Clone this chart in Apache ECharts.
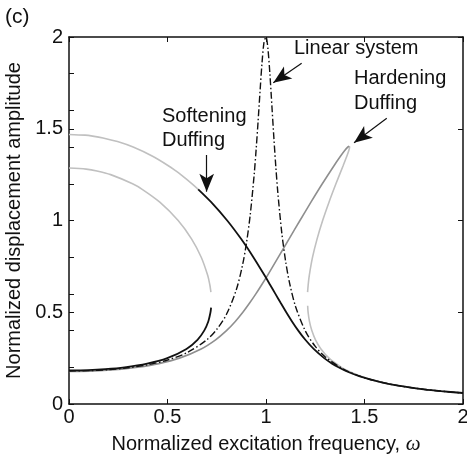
<!DOCTYPE html>
<html>
<head>
<meta charset="utf-8">
<script src="https://cdn.jsdelivr.net/npm/echarts@6/dist/echarts.min.js"></script>
<style>
  html, body { margin: 0; padding: 0; background: #fff; }
  #chart { width: 467px; height: 460px; }
</style>
</head>
<body>
<div id="chart"></div>
<script>
// Frequency response curves: [omega, amplitude]
const linearSystem = [[0,0.18],[0.1,0.1818],[0.2,0.1875],[0.3,0.1977],[0.4,0.2141],[0.5,0.2396],[0.6,0.2803],[0.7,0.3503],[0.75,0.4066],[0.8,0.4903],[0.85,0.6253],[0.88,0.7528],[0.9,0.8715],[0.92,1.0315],[0.94,1.2509],[0.95,1.3881],[0.96,1.5428],[0.97,1.7074],[0.98,1.8618],[0.99,1.9716],[1.0,2.0],[1.01,1.9335],[1.02,1.7948],[1.03,1.6229],[1.04,1.4495],[1.05,1.2911],[1.06,1.1529],[1.08,0.9340],[1.1,0.7753],[1.12,0.6578],[1.15,0.5314],[1.2,0.3973],[1.25,0.3138],[1.3,0.2572],[1.4,0.1859],[1.5,0.1432],[1.6,0.1149],[1.7,0.0949],[1.8,0.0802],[1.9,0.0688],[2.0,0.0599]];

const softLowerStable = [[0,0.1832],[0.0963,0.185],[0.1844,0.19],[0.2821,0.20],[0.3968,0.22],[0.4989,0.25],[0.5963,0.30],[0.6522,0.35],[0.6863,0.40],[0.7070,0.45],[0.7182,0.50],[0.7213,0.525]];
const softUnstable = [[0.7201,0.61],[0.7191,0.62],[0.7148,0.65],[0.7043,0.70],[0.6712,0.80],[0.6219,0.90],[0.5541,1.00],[0.4610,1.10],[0.3715,1.17],[0.3226,1.20],[0.2116,1.25],[0.1419,1.27],[0.0873,1.28],[0,1.286]];
const softUpperUnreached = [[0,1.469],[0.0813,1.465],[0.1199,1.46],[0.1728,1.45],[0.2461,1.43],[0.3256,1.40],[0.4243,1.35],[0.5021,1.30],[0.5425,1.27],[0.5676,1.25],[0.6247,1.20],[0.6559,1.17]];
const softUpperStable = [[0.6559,1.17],[0.7218,1.10],[0.8030,1.00],[0.8733,0.90],[0.9359,0.80],[0.9931,0.70],[1.0206,0.65],[1.0477,0.60],[1.0749,0.55],[1.1028,0.50],[1.1320,0.45],[1.1638,0.40],[1.1996,0.35],[1.2421,0.30],[1.2954,0.25],[1.3357,0.22],[1.3678,0.20],[1.4054,0.18],[1.4768,0.15],[1.5766,0.12],[1.6699,0.10],[1.8002,0.08],[1.8877,0.07],[2.0,0.0599]];

const hardUpperStable = [[0,0.177],[0.1301,0.18],[0.2678,0.19],[0.3484,0.20],[0.4561,0.22],[0.5606,0.25],[0.6707,0.30],[0.7442,0.35],[0.7994,0.40],[0.8442,0.45],[0.8825,0.50],[0.9168,0.55],[0.9485,0.60],[0.9783,0.65],[1.0071,0.70],[1.0626,0.80],[1.1173,0.90],[1.1723,1.00],[1.2282,1.10],[1.2858,1.20],[1.3460,1.30],[1.3779,1.35],[1.3986,1.38],[1.4147,1.40],[1.4221,1.405]];
const hardUnstable = [[1.4221,1.405],[1.4244,1.40],[1.4200,1.38],[1.4102,1.35],[1.3920,1.30],[1.3550,1.20],[1.3198,1.10],[1.2875,1.00],[1.2594,0.90],[1.2363,0.80],[1.2196,0.70],[1.2142,0.65],[1.2111,0.61]];
const hardLowerStable = [[1.2115,0.535],[1.2137,0.50],[1.2206,0.45],[1.2326,0.40],[1.2512,0.35],[1.2789,0.30],[1.3201,0.25],[1.3828,0.20],[1.4173,0.18],[1.4847,0.15],[1.5814,0.12],[1.6730,0.10],[1.8021,0.08],[1.8890,0.07],[2.0,0.06]];

// Annotation arrows: [tail, head] in data coordinates
const arrowSoftening = [[0.699, 1.357], [0.699, 1.157]];
const arrowLinear = [[1.181, 1.857], [1.037, 1.751]];
const arrowHardening = [[1.613, 1.557], [1.447, 1.424]];

const FONT = 'Liberation Sans, Arial, Helvetica, sans-serif';
const FS = 20;
const BLACK = '#111';
const MID_GRAY = '#8f8f8f';
const LIGHT_GRAY = '#c0c0c0';

function curve(data, color, width, type) {
  return {
    type: 'line', data: data, showSymbol: false, smooth: 0.3,
    lineStyle: { color: color, width: width, type: type || 'solid' },
    silent: true, animation: false
  };
}

const tickStyle = { show: true, inside: true, length: 5, lineStyle: { color: BLACK, width: 1 } };
const frameLine = { show: true, onZero: false, lineStyle: { color: BLACK, width: 1.5 } };

const chart = echarts.init(document.getElementById('chart'), null, { renderer: 'canvas' });

chart.setOption({
  animation: false,
  backgroundColor: '#fff',
  grid: { left: 69, right: 4, top: 37, bottom: 56, containLabel: false, outerBoundsMode: 'none' },
  xAxis: [
    {
      type: 'value', min: 0, max: 2, interval: 0.5, position: 'bottom',
      name: 'Normalized excitation frequency, {w|ω}',
      nameLocation: 'middle', nameGap: 30,
      nameTextStyle: {
        fontFamily: FONT, fontSize: FS, color: BLACK,
        rich: { w: { fontFamily: 'Liberation Serif, DejaVu Serif, serif', fontStyle: 'italic', fontSize: FS + 1, color: BLACK } }
      },
      axisLine: frameLine,
      axisTick: tickStyle,
      axisLabel: { fontFamily: FONT, fontSize: FS, color: BLACK, margin: 3, hideOverlap: false,
        formatter: function (v) { return String(v); } },
      splitLine: { show: false }
    },
    {
      type: 'value', min: 0, max: 2, interval: 0.5, position: 'top',
      axisLine: frameLine, axisTick: tickStyle,
      axisLabel: { show: false }, splitLine: { show: false }
    }
  ],
  yAxis: [
    {
      type: 'value', min: 0, max: 2, interval: 0.5, position: 'left',
      name: 'Normalized displacement amplitude',
      nameLocation: 'middle', nameGap: 42,
      nameTextStyle: { fontFamily: FONT, fontSize: FS, color: BLACK },
      axisLine: frameLine,
      axisTick: tickStyle,
      axisLabel: { fontFamily: FONT, fontSize: FS, color: BLACK, margin: 6,
        formatter: function (v) { return String(v); } },
      splitLine: { show: false }
    },
    {
      type: 'value', min: 0, max: 2, interval: 0.2, position: 'left',
      axisLine: { show: false, onZero: false }, axisTick: tickStyle,
      axisLabel: { show: false }, splitLine: { show: false }
    },
    {
      type: 'value', min: 0, max: 2, interval: 0.5, position: 'right',
      axisLine: frameLine, axisTick: tickStyle,
      axisLabel: { show: false }, splitLine: { show: false }
    }
  ],
  series: [
    curve(softUnstable, LIGHT_GRAY, 1.6),
    curve(softUpperUnreached, LIGHT_GRAY, 1.6),
    curve(hardUnstable, LIGHT_GRAY, 1.6),
    curve(hardLowerStable, LIGHT_GRAY, 1.6),
    curve(hardUpperStable, MID_GRAY, 1.6),
    curve(linearSystem, BLACK, 1.4, [7, 2.5, 1.5, 2.5]),
    curve(softLowerStable, BLACK, 1.8),
    Object.assign(curve(softUpperStable, BLACK, 1.8), {
      markLine: {
        silent: true, animation: false,
        symbol: ['none', 'arrow'], symbolSize: [11, 18],
        label: { show: false },
        lineStyle: { color: BLACK, width: 1.2, type: 'solid' },
        emphasis: { disabled: true },
        data: [
          [{ coord: arrowSoftening[0] }, { coord: arrowSoftening[1] }],
          [{ coord: arrowLinear[0] }, { coord: arrowLinear[1] }],
          [{ coord: arrowHardening[0] }, { coord: arrowHardening[1] }]
        ]
      }
    })
  ],
  graphic: [
    { type: 'text', left: 5, top: 7, style: { text: '(c)', font: '21px ' + FONT, fill: BLACK } },
    { type: 'text', left: 162, top: 104, style: { text: 'Softening\nDuffing', font: FS + 'px ' + FONT, fill: BLACK, lineHeight: 24 } },
    { type: 'text', left: 294, top: 38, style: { text: 'Linear system', font: FS + 'px ' + FONT, fill: BLACK } },
    { type: 'text', left: 354, top: 66, style: { text: 'Hardening\nDuffing', font: FS + 'px ' + FONT, fill: BLACK, lineHeight: 25 } }
  ]
});
</script>
</body>
</html>
